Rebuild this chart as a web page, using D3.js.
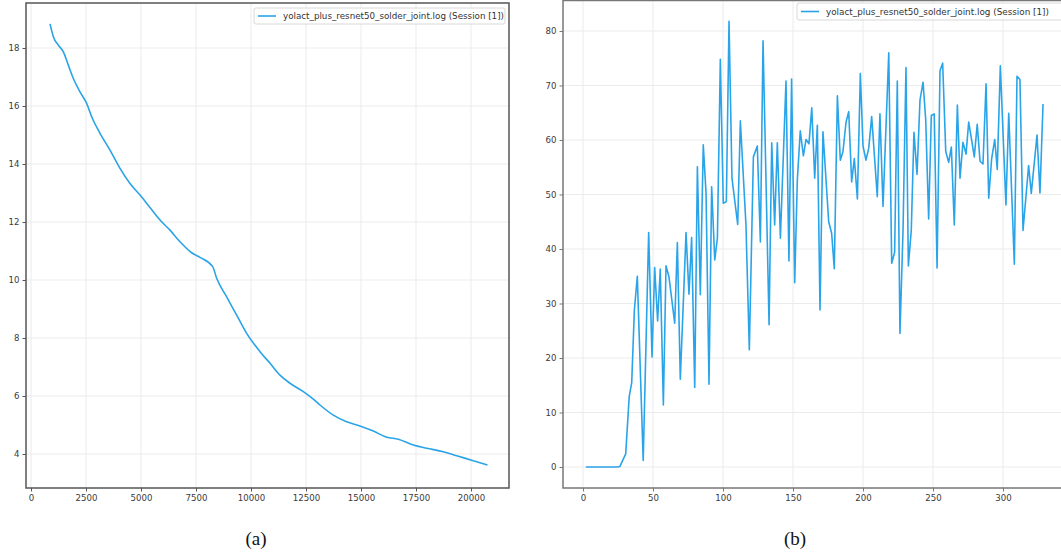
<!DOCTYPE html>
<html>
<head>
<meta charset="utf-8">
<script src="https://cdn.jsdelivr.net/npm/d3@7"></script>
<style>
  html, body { margin: 0; padding: 0; background: #fff; }
  svg { display: block; }
  .tick text { font-family: "DejaVu Sans", sans-serif; font-size: 8.6px; fill: #3a3a3a; }
  .legend text { font-family: "DejaVu Sans", sans-serif; font-size: 8.6px; fill: #333; }
  .caption { font-family: "Liberation Serif", "Times New Roman", serif; font-size: 19px; fill: #111; }
</style>
</head>
<body>
<svg id="fig" width="1061" height="559"></svg>
<script>
// (a) training loss against iteration
const lossIter = [864, 1015, 1242, 1470, 1697, 1924, 2227, 2530, 2758, 3136, 3591, 4045, 4500, 4955,
  5409, 5864, 6318, 6773, 7303, 7682, 8258, 8439, 8894, 9349, 9803, 10409, 10864, 11318, 11773,
  12379, 12833, 13136, 13742, 14348, 14955, 15561, 16167, 16697, 17379, 17985, 18742, 19348, 20106, 20750];
const lossValue = [18.83, 18.39, 18.10, 17.87, 17.41, 16.95, 16.49, 16.09, 15.63, 15.06, 14.48, 13.85, 13.33, 12.93,
  12.50, 12.07, 11.72, 11.32, 10.94, 10.78, 10.46, 10.06, 9.42, 8.79, 8.16, 7.53, 7.13, 6.72, 6.44,
  6.15, 5.89, 5.69, 5.34, 5.11, 4.97, 4.79, 4.58, 4.51, 4.31, 4.20, 4.08, 3.94, 3.77, 3.62];
const lossXTicks = [0, 2500, 5000, 7500, 10000, 12500, 15000, 17500, 20000];
const lossYTicks = [4, 6, 8, 10, 12, 14, 16, 18];

// (b) evaluation score against epoch
const mapEpoch = [2, 4, 6, 8, 10, 12, 14, 16, 18, 20, 22, 24, 26.4, 30.5, 33, 34.8, 36.7, 38.8, 43, 46.9,
  49.3, 51.2, 53.3, 55.2, 57.4, 59.3, 61.4, 65.5, 67.4, 69.5, 73.6, 75.7, 77.6, 79.8, 81.7, 83.8, 85.9,
  87.9, 90, 91.9, 94.1, 96, 98.1, 100.2, 102.4, 104.3, 106.4, 110.5, 112.4, 116.4, 118.8, 121.7, 124.5,
  126.7, 128.6, 132.9, 134.8, 136.9, 138.8, 141, 145, 147.1, 149, 151.2, 153.1, 155.2, 157.4, 159.3,
  161.4, 163.4, 165.5, 167.4, 169.3, 171.4, 175.5, 177.6, 179.5, 181.7, 183.8, 185.7, 187.9, 189.8,
  191.9, 193.8, 196, 198.1, 200, 202.1, 204.1, 206.2, 210.2, 212.1, 214.3, 218.4, 220.5, 222.6, 224.5,
  226.4, 228.6, 230.7, 232.4, 234.5, 236.4, 238.6, 240.7, 242.9, 244.8, 246.9, 248.8, 250.9, 252.9,
  255, 256.9, 259.1, 261.2, 263.1, 265.2, 267.4, 269.3, 271.4, 273.6, 275.5, 277.6, 279.5, 281.6,
  283.6, 285.7, 287.9, 289.8, 291.9, 294.1, 295.9, 298.1, 302.1, 304.1, 308.1, 310, 312.1, 314.3,
  318.3, 320.2, 324.3, 326.4, 328.6];
const mapValue = [0, 0, 0, 0, 0, 0, 0, 0, 0, 0, 0, 0, 0.1, 2.4, 12.9, 15.5, 28.8, 35, 1.2, 43,
  20.2, 36.6, 26.8, 36.3, 11.4, 36.9, 34.9, 26.4, 41.2, 16.1, 43, 31.7, 42.1, 14.6, 55.1, 31.6, 59.1,
  50.2, 15.2, 51.4, 38, 42, 74.8, 48.4, 48.7, 81.8, 53, 44.5, 63.5, 44.4, 21.5, 56.9, 58.9,
  41.3, 78.2, 26.1, 59.5, 44.4, 59.5, 42, 70.8, 37.8, 71.2, 33.8, 52.7, 61.7, 57.1, 60.1,
  59.3, 65.9, 53, 62.7, 28.8, 61.5, 45, 42.9, 36.4, 68.1, 56.3, 57.9, 63.3, 65.2,
  52.3, 56.6, 49.2, 72.2, 58.9, 56.3, 58.5, 64.3, 49.6, 64.8, 47.8, 76, 37.4, 39.4, 70.8,
  24.5, 43.5, 73.3, 36.9, 43.5, 61.4, 53.7, 67.3, 70.6, 63.7, 45.5, 64.5, 64.8, 36.5,
  72.7, 74.1, 57.9, 55.9, 58.7, 44.4, 66.4, 53, 59.6, 57.4, 63.3, 60, 56.9, 62.9,
  56.1, 55.6, 70.3, 49.3, 56.6, 60.1, 54.6, 73.6, 48.1, 64.9, 37.2, 71.7, 71.1, 43.4,
  55.3, 50.2, 60.9, 50.3, 66.6];
const mapXTicks = [0, 50, 100, 150, 200, 250, 300];
const mapYTicks = [0, 10, 20, 30, 40, 50, 60, 70, 80];

const legendLabel = "yolact_plus_resnet50_solder_joint.log (Session [1])";
const captions = ["(a)", "(b)"];

const svg = d3.select("#fig");
const LINE = "#2aa4e8";

function panel(cfg) {
  const { left, right, top, bottom, xDomain, yDomain, xs, ys, xTicks, yTicks, spine, legend, caption, curve } = cfg;
  const x = d3.scaleLinear().domain(xDomain).range([left, right]);
  const y = d3.scaleLinear().domain(yDomain).range([bottom, top]);
  const g = svg.append("g");

  const clipId = "clip" + Math.round(left);
  svg.append("clipPath").attr("id", clipId)
    .append("rect").attr("x", left).attr("y", top).attr("width", right - left).attr("height", bottom - top);

  // grid
  g.append("g").selectAll("line").data(xTicks).join("line")
    .attr("x1", d => x(d)).attr("x2", d => x(d)).attr("y1", top).attr("y2", bottom)
    .attr("stroke", "#ebebeb").attr("stroke-width", 1);
  g.append("g").selectAll("line").data(yTicks).join("line")
    .attr("x1", left).attr("x2", right).attr("y1", d => y(d)).attr("y2", d => y(d))
    .attr("stroke", "#ebebeb").attr("stroke-width", 1);

  // series
  const pts = xs.map((v, i) => [v, ys[i]]);
  g.append("path").datum(pts)
    .attr("clip-path", `url(#${clipId})`)
    .attr("fill", "none").attr("stroke", LINE).attr("stroke-width", 1.6)
    .attr("stroke-linejoin", "round")
    .attr("d", d3.line().curve(curve).x(d => x(d[0])).y(d => y(d[1])));

  // axes
  const ax = g.append("g").attr("transform", `translate(0,${bottom})`)
    .call(d3.axisBottom(x).tickValues(xTicks).tickSize(3.5).tickPadding(3).tickFormat(d3.format("d")));
  const ay = g.append("g").attr("transform", `translate(${left},0)`)
    .call(d3.axisLeft(y).tickValues(yTicks).tickSize(3.5).tickPadding(3).tickFormat(d3.format("d")));
  [ax, ay].forEach(a => {
    a.select(".domain").remove();
    a.selectAll(".tick line").attr("stroke", spine.color).attr("stroke-width", 1);
  });

  // frame
  g.append("rect").attr("x", left).attr("y", top).attr("width", right - left).attr("height", bottom - top)
    .attr("fill", "none").attr("stroke", spine.color).attr("stroke-width", spine.width);

  // legend
  const lg = g.append("g").attr("class", "legend");
  lg.append("rect").attr("x", legend.x).attr("y", legend.y).attr("width", legend.w).attr("height", legend.h)
    .attr("rx", 2).attr("fill", "#fff").attr("fill-opacity", 0.85)
    .attr("stroke", "#d8d8d8").attr("stroke-width", 1);
  lg.append("line").attr("x1", legend.x + 4).attr("x2", legend.x + 22)
    .attr("y1", legend.y + legend.h / 2).attr("y2", legend.y + legend.h / 2)
    .attr("stroke", LINE).attr("stroke-width", 1.6);
  lg.append("text").attr("x", legend.x + 29).attr("y", legend.y + legend.h / 2)
    .attr("dy", "0.35em").attr("textLength", legend.tw).attr("lengthAdjust", "spacingAndGlyphs")
    .text(legendLabel);

  svg.append("text").attr("class", "caption").attr("x", caption.x).attr("y", caption.y)
    .attr("text-anchor", "middle").text(caption.text);
}

// pixel anchors: 0 -> 31px, 20000 -> 471px; 18 -> 48px, 4 -> 454px
panel({
  left: 26, right: 509, top: 3, bottom: 488,
  xDomain: [-227.3, 21727.3], yDomain: [2.828, 19.552],
  xs: lossIter, ys: lossValue, xTicks: lossXTicks, yTicks: lossYTicks,
  spine: { color: "#555", width: 1.5 },
  legend: { x: 254, y: 8, w: 251, h: 16, tw: 221 },
  caption: { x: 256, y: 545, text: captions[0] },
  curve: d3.curveMonotoneX
});

// pixel anchors: 0 -> 583px, 300 -> 1003px; 80 -> 31px, 0 -> 467px
panel({
  left: 563, right: 1066, top: 0.5, bottom: 488,
  xDomain: [-14.286, 345], yDomain: [-3.853, 85.596],
  xs: mapEpoch, ys: mapValue, xTicks: mapXTicks, yTicks: mapYTicks,
  spine: { color: "#777", width: 1.5 },
  legend: { x: 797, y: 3, w: 270, h: 17, tw: 223 },
  caption: { x: 795, y: 545, text: captions[1] },
  curve: d3.curveLinear
});
</script>
</body>
</html>
